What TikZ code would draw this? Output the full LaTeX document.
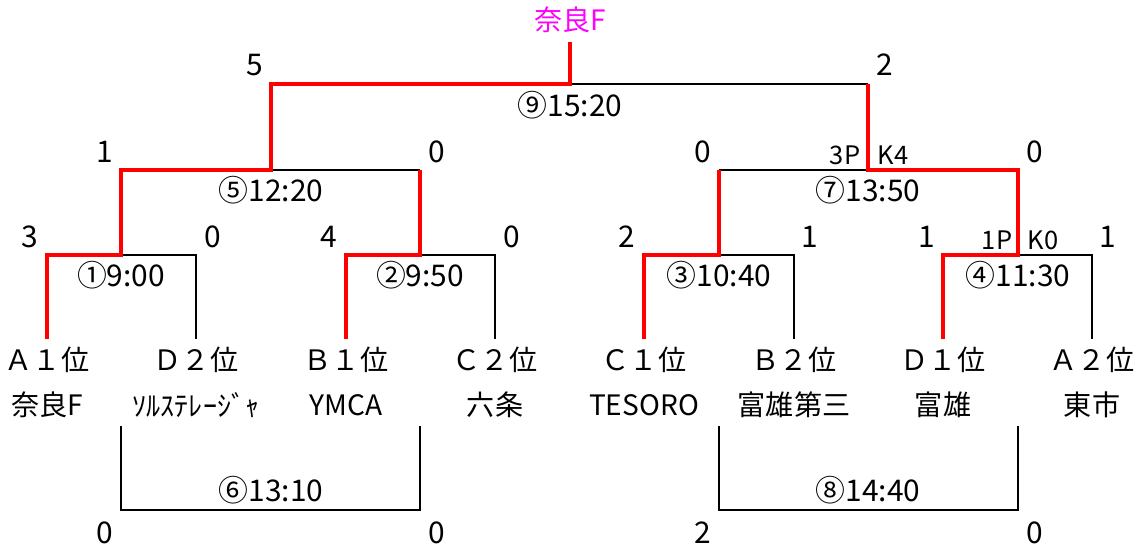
\documentclass[tikz,border=0pt]{standalone}
\usepackage{fontspec}
\setmainfont{Noto Sans CJK JP}
\usepackage{xcolor}
\definecolor{champpink}{RGB}{255,0,255}

\tikzset{
  win/.style={draw=red, line width=2.8pt},
  lose/.style={draw=black, line width=1.6pt},
  team/.style={inner xsep=0pt, inner ysep=4.5pt, font=\fontsize{16}{19}\selectfont},
  score/.style={inner sep=0pt, font=\fontsize{17}{20}\selectfont},
  pk/.style={inner sep=0pt, font=\fontsize{14.5}{17}\selectfont},
  game/.style={inner sep=0pt, font=\fontsize{17}{20}\selectfont}
}

\begin{document}
\begin{tikzpicture}[x=0.02cm, y=-0.02cm]
        \useasboundingbox (0,0) rectangle (1141,551);
        % teams
        \node[team] (t1) at (47,360) {Ａ１位};
        \node[team] (t2) at (196,360) {Ｄ２位};
        \node[team] (t3) at (346,360) {Ｂ１位};
        \node[team] (t4) at (495,360) {Ｃ２位};
        \node[team] (t5) at (644,360) {Ｃ１位};
        \node[team] (t6) at (794,360) {Ｂ２位};
        \node[team] (t7) at (943,360) {Ｄ１位};
        \node[team] (t8) at (1092,360) {Ａ２位};
        \node[team] (n1) at (47,405) {奈良F};
        \node[team] (n2) at (196,405) {ｿﾙｽﾃﾚｰｼﾞｬ};
        \node[team] (n3) at (346,405) {YMCA};
        \node[team] (n4) at (495,405) {六条};
        \node[team] (n5) at (644,405) {TESORO};
        \node[team] (n6) at (794,405) {富雄第三};
        \node[team] (n7) at (943,405) {富雄};
        \node[team] (n8) at (1092,405) {東市};
        \node[team, text=champpink] (champ) at (570,20) {奈良F};
        % junctions
        \coordinate (m1) at (121,255);
        \coordinate (m2) at (420,255);
        \coordinate (m3) at (719,255);
        \coordinate (m4) at (1018,255);
        \coordinate (a1) at (121,170);
        \coordinate (a2) at (420,170);
        \coordinate (a3) at (719,170);
        \coordinate (a4) at (1018,170);
        \coordinate (m5) at (271,170);
        \coordinate (m7) at (868,170);
        \coordinate (b5) at (271,84);
        \coordinate (b7) at (868,84);
        \coordinate (m9) at (570,84);
        \coordinate (top) at (570,42);
        \coordinate (c6l) at (121,426);
        \coordinate (c6r) at (420,426);
        \coordinate (m6) at (271,510);
        \coordinate (c8l) at (719,426);
        \coordinate (c8r) at (1018,426);
        \coordinate (m8) at (868,510);
        % losing sides
        \draw[lose] (t2.north) |- (m1);
        \draw[lose] (t4.north) |- (m2);
        \draw[lose] (t6.north) |- (m3);
        \draw[lose] (t8.north) |- (m4);
        \draw[lose] (a2) -- (m5);
        \draw[lose] (a3) -- (m7);
        \draw[lose] (b7) -- (m9);
        \draw[lose] (c6l) |- (m6) -| (c6r);
        \draw[lose] (c8l) |- (m8) -| (c8r);
        % winning sides
        \draw[win] (t1.north) |- (m1) -- (a1) -- (m5) -- (b5) -- (m9) -- (top);
        \draw[win] (t3.north) |- (m2) -- (a2);
        \draw[win] (t5.north) |- (m3) -- (a3);
        \draw[win] (t7.north) |- (m4) -- (a4) -- (m7) -- (b7);
        % games
        \node[game] (g1) at (121,275) {①9:00};
        \node[game] (g2) at (420,275) {②9:50};
        \node[game] (g3) at (719,275) {③10:40};
        \node[game] (g4) at (1018,275) {④11:30};
        \node[game] (g5) at (271,190) {⑤12:20};
        \node[game] (g7) at (868,190) {⑦13:50};
        \node[game] (g9) at (570,105) {⑨15:20};
        \node[game] (g6) at (271,490) {⑥13:10};
        \node[game] (g8) at (868,490) {⑧14:40};
        % scores
        \node[score] (s1) at (30,237) {3};
        \node[score] (s2) at (213,237) {0};
        \node[score] (s3) at (329,237) {4};
        \node[score] (s4) at (512,237) {0};
        \node[score] (s5) at (627,237) {2};
        \node[score] (s6) at (810,237) {1};
        \node[score] (s7) at (927,237) {1};
        \node[score] (s8) at (1108,237) {1};
        \node[pk] (p4l) at (997,240) {1P};
        \node[pk] (p4r) at (1043,240) {K0};
        \node[score] (s5l) at (105,152) {1};
        \node[score] (s5r) at (437,152) {0};
        \node[score] (s7l) at (703,152) {0};
        \node[score] (s7r) at (1035,152) {0};
        \node[pk] (p7l) at (845,155) {3P};
        \node[pk] (p7r) at (893,155) {K4};
        \node[score] (s9l) at (255,65) {5};
        \node[score] (s9r) at (885,65) {2};
        \node[score] (s6l) at (105,533) {0};
        \node[score] (s6r) at (437,533) {0};
        \node[score] (s8l) at (703,533) {2};
        \node[score] (s8r) at (1035,533) {0};
\end{tikzpicture}
\end{document}
